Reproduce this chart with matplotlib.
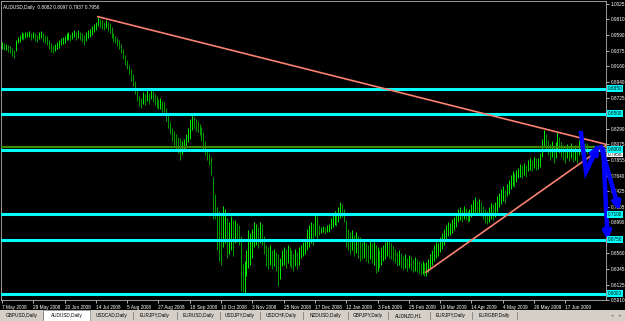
import matplotlib
matplotlib.use("Agg")
import matplotlib.pyplot as plt
from matplotlib.patches import Rectangle

title_text = "AUDUSD,Daily  0.8082 0.8097 0.7937 0.7956"

highs = [
    0.950, 0.948, 0.947, 0.945, 0.944, 0.941, 0.938, 0.952, 0.957, 0.960,
    0.963, 0.962, 0.964, 0.963, 0.965, 0.962, 0.964, 0.962, 0.960, 0.963,
    0.965, 0.962, 0.960, 0.958, 0.952, 0.948, 0.946, 0.947, 0.950, 0.953,
    0.955, 0.957, 0.958, 0.962, 0.963, 0.961, 0.964, 0.967, 0.963, 0.966,
    0.964, 0.962, 0.960, 0.963, 0.966, 0.968, 0.972, 0.975, 0.978, 0.985,
    0.982, 0.980, 0.978, 0.980, 0.977, 0.976, 0.970, 0.962, 0.958, 0.955,
    0.952, 0.947, 0.940, 0.932, 0.925, 0.918, 0.912, 0.905, 0.895, 0.885,
    0.874, 0.872, 0.880, 0.878, 0.884, 0.879, 0.886, 0.881, 0.878, 0.874,
    0.870, 0.872, 0.868, 0.866, 0.858, 0.848, 0.838, 0.830, 0.826, 0.822,
    0.818, 0.816, 0.812, 0.815, 0.822, 0.830, 0.842, 0.849, 0.846, 0.843,
    0.840, 0.836, 0.832, 0.825, 0.812, 0.800, 0.795, 0.790, 0.762, 0.738,
    0.720, 0.715, 0.712, 0.722, 0.718, 0.705, 0.700, 0.708, 0.702, 0.702,
    0.698, 0.695, 0.680, 0.641, 0.645, 0.660, 0.688, 0.684, 0.690, 0.700,
    0.697, 0.693, 0.699, 0.696, 0.680, 0.668, 0.664, 0.667, 0.660, 0.662,
    0.658, 0.655, 0.650, 0.660, 0.665, 0.662, 0.668, 0.664, 0.660, 0.655,
    0.662, 0.658, 0.665, 0.668, 0.672, 0.675, 0.690, 0.695, 0.700, 0.698,
    0.712, 0.708, 0.695, 0.693, 0.694, 0.692, 0.695, 0.696, 0.705, 0.710,
    0.715, 0.712, 0.720, 0.727, 0.725, 0.718, 0.702, 0.690, 0.685, 0.688,
    0.682, 0.686, 0.680, 0.678, 0.672, 0.675, 0.670, 0.668, 0.673, 0.670,
    0.672, 0.668, 0.665, 0.660, 0.665, 0.668, 0.672, 0.675, 0.673, 0.670,
    0.666, 0.662, 0.658, 0.660, 0.656, 0.652, 0.655, 0.650, 0.654, 0.652,
    0.648, 0.651, 0.648, 0.645, 0.643, 0.645, 0.642, 0.644, 0.648, 0.655,
    0.660, 0.668, 0.672, 0.670, 0.678, 0.684, 0.690, 0.695, 0.700, 0.698,
    0.703, 0.706, 0.710, 0.718, 0.720, 0.716, 0.721, 0.719, 0.715, 0.718,
    0.725, 0.730, 0.734, 0.728, 0.732, 0.727, 0.722, 0.718, 0.715, 0.720,
    0.726, 0.724, 0.727, 0.735, 0.740, 0.745, 0.749, 0.744, 0.752, 0.758,
    0.765, 0.770, 0.768, 0.772, 0.775, 0.780, 0.778, 0.782, 0.779, 0.785,
    0.788, 0.786, 0.790, 0.788, 0.789, 0.795, 0.815, 0.828, 0.822, 0.814,
    0.808, 0.812, 0.805, 0.810, 0.824, 0.818, 0.810, 0.806, 0.803, 0.808,
    0.805, 0.809, 0.802, 0.806, 0.800, 0.814, 0.810, 0.812, 0.809, 0.8097,
]
lows = [
    0.940, 0.938, 0.939, 0.936, 0.934, 0.930, 0.928, 0.937, 0.948, 0.950,
    0.954, 0.953, 0.955, 0.956, 0.957, 0.953, 0.955, 0.951, 0.950, 0.954,
    0.955, 0.950, 0.948, 0.945, 0.940, 0.936, 0.935, 0.937, 0.940, 0.942,
    0.945, 0.947, 0.948, 0.952, 0.953, 0.951, 0.954, 0.957, 0.952, 0.955,
    0.953, 0.950, 0.946, 0.951, 0.955, 0.957, 0.960, 0.964, 0.967, 0.972,
    0.970, 0.968, 0.967, 0.969, 0.965, 0.962, 0.955, 0.950, 0.948, 0.944,
    0.940, 0.935, 0.926, 0.918, 0.912, 0.905, 0.895, 0.888, 0.878, 0.868,
    0.860, 0.858, 0.864, 0.862, 0.868, 0.864, 0.870, 0.866, 0.862, 0.858,
    0.856, 0.857, 0.853, 0.852, 0.840, 0.830, 0.822, 0.812, 0.806, 0.800,
    0.795, 0.786, 0.794, 0.798, 0.802, 0.810, 0.815, 0.828, 0.830, 0.826,
    0.825, 0.820, 0.812, 0.800, 0.793, 0.785, 0.778, 0.765, 0.703, 0.703,
    0.660, 0.645, 0.640, 0.665, 0.670, 0.650, 0.655, 0.660, 0.652, 0.670,
    0.672, 0.668, 0.604, 0.602, 0.600, 0.625, 0.635, 0.640, 0.650, 0.665,
    0.668, 0.663, 0.670, 0.668, 0.655, 0.638, 0.634, 0.640, 0.634, 0.638,
    0.632, 0.610, 0.620, 0.638, 0.640, 0.636, 0.642, 0.638, 0.635, 0.632,
    0.638, 0.634, 0.640, 0.650, 0.652, 0.655, 0.660, 0.665, 0.670, 0.668,
    0.680, 0.675, 0.682, 0.684, 0.685, 0.683, 0.686, 0.685, 0.690, 0.692,
    0.695, 0.694, 0.700, 0.705, 0.706, 0.700, 0.665, 0.660, 0.655, 0.660,
    0.652, 0.656, 0.650, 0.645, 0.648, 0.650, 0.645, 0.643, 0.648, 0.642,
    0.640, 0.628, 0.632, 0.635, 0.640, 0.645, 0.648, 0.652, 0.650, 0.648,
    0.645, 0.642, 0.638, 0.640, 0.636, 0.633, 0.636, 0.632, 0.635, 0.633,
    0.630, 0.632, 0.630, 0.628, 0.626, 0.627, 0.624, 0.625, 0.630, 0.636,
    0.640, 0.645, 0.650, 0.652, 0.658, 0.662, 0.668, 0.674, 0.680, 0.682,
    0.684, 0.688, 0.692, 0.700, 0.702, 0.700, 0.704, 0.702, 0.699, 0.701,
    0.706, 0.710, 0.714, 0.710, 0.712, 0.708, 0.704, 0.698, 0.696, 0.700,
    0.704, 0.702, 0.706, 0.714, 0.720, 0.725, 0.728, 0.726, 0.735, 0.738,
    0.745, 0.750, 0.748, 0.755, 0.760, 0.762, 0.760, 0.765, 0.762, 0.770,
    0.772, 0.771, 0.774, 0.772, 0.773, 0.776, 0.790, 0.805, 0.800, 0.792,
    0.785, 0.790, 0.782, 0.788, 0.800, 0.796, 0.790, 0.785, 0.782, 0.788,
    0.784, 0.789, 0.783, 0.786, 0.782, 0.792, 0.794, 0.796, 0.795, 0.7937,
]

date_labels = ["7 May 2008", "29 May 2008", "20 Jun 2008", "14 Jul 2008",
               "5 Aug 2008", "27 Aug 2008", "18 Sep 2008", "10 Oct 2008",
               "3 Nov 2008", "25 Nov 2008", "17 Dec 2008", "12 Jan 2009",
               "3 Feb 2009", "25 Feb 2009", "19 Mar 2009", "14 Apr 2009",
               "4 May 2009", "26 May 2009", "17 Jun 2009"]
date_label_bars = [0, 16, 32, 48, 64, 80, 96, 112, 128, 144, 160, 176,
                   192, 208, 224, 240, 256, 272, 288]

price_ticks = [1.0025, 0.9810, 0.9590, 0.9375, 0.9160, 0.8940, 0.8725,
               0.8505, 0.8290, 0.8075, 0.7855, 0.7640, 0.7425, 0.7205,
               0.6990, 0.6775, 0.6560, 0.6345, 0.6125, 0.5910]

level_prices = [0.8850, 0.8500, 0.8000, 0.7100, 0.6750, 0.6000]
green_level = 0.8035
last_price = 0.7956

trend_down_bars = [49, 309.3]
trend_down_prices = [0.9849, 0.8071]
trend_up_bars = [216.8, 309.3]
trend_up_prices = [0.6297, 0.8071]

proj_path_bars = [296.0, 298.6, 305.0]
proj_path_prices = [0.8230, 0.7697, 0.8070]
proj_arrow2_bars = [306.3, 315.6]
proj_arrow2_prices = [0.8040, 0.7150]
proj_arrow3_bars = [307.4, 309.6]
proj_arrow3_prices = [0.8010, 0.6740]

tab_labels = ["GBPUSD,Daily", "AUDUSD,Daily", "USDCAD,Daily", "EURJPY,Daily",
              "EURUSD,Daily", "USDJPY,Daily", "USDCHF,Daily", "NZDUSD,Daily",
              "GBPJPY,Daily", "AUDNZD,H1", "EURJPY,Daily", "EURGBP,Daily"]
active_tab = 1

# ---------------------------------------------------------------- layout
W, H = 625, 321
FONT = "Liberation Sans"
FS = 3.4
fig = plt.figure(figsize=(W / 100, H / 100), dpi=100, facecolor="black")
ax = fig.add_axes([1 / W, 21 / H, 605 / W, 299 / H], facecolor="black")

n = len(highs)
xs = list(range(n))
cols = []
for i in range(n):
    mid = (highs[i] + lows[i]) / 2
    pmid = (highs[i - 1] + lows[i - 1]) / 2 if i > 0 else mid
    cols.append("#00FF00" if mid >= pmid else "#00A800")
ax.vlines(xs, lows, highs, colors=cols, linewidth=0.65, zorder=3)

for p in level_prices:
    ax.axhline(p, color="#00FFFF", linewidth=2.2, zorder=4)
ax.axhline(green_level, color="#3C8C00", linewidth=1.6, zorder=4)

ax.plot(trend_down_bars, trend_down_prices, color="#FA8072", linewidth=1.2, zorder=5)
ax.plot(trend_up_bars, trend_up_prices, color="#FA8072", linewidth=1.2, zorder=5)

blue = "#0000FF"
ax.plot(proj_path_bars[:-1] + [proj_path_bars[-1] - 0.9],
        proj_path_prices[:-1] + [proj_path_prices[-1] - 0.005],
        color=blue, linewidth=3.2, solid_joinstyle="miter", zorder=6, clip_on=False)
aprops = dict(arrowstyle="-|>", color=blue, lw=3.2, mutation_scale=11,
              shrinkA=0, shrinkB=0)
ax.annotate("", xy=(proj_path_bars[-1], proj_path_prices[-1]),
            xytext=(proj_path_bars[-2], proj_path_prices[-2]),
            arrowprops=aprops, annotation_clip=False, zorder=6)
ax.annotate("", xy=(proj_arrow2_bars[1], proj_arrow2_prices[1]),
            xytext=(proj_arrow2_bars[0], proj_arrow2_prices[0]),
            arrowprops=aprops, annotation_clip=False, zorder=6)
ax.annotate("", xy=(proj_arrow3_bars[1], proj_arrow3_prices[1]),
            xytext=(proj_arrow3_bars[0], proj_arrow3_prices[0]),
            arrowprops=aprops, annotation_clip=False, zorder=6)

ax.set_xlim(-0.5, 308.8)
ax.set_ylim(0.5922, 1.00666)

for s in ax.spines.values():
    s.set_color("#B0B0B0")
    s.set_linewidth(0.6)

# tick labels hidden behind level boxes in the reference are left blank
ytick_texts = []
for p in price_ticks:
    hidden = any(abs(p - q) < 0.004 for q in level_prices)
    ytick_texts.append("" if hidden else f"{p:.4f}")

ax.yaxis.tick_right()
ax.set_yticks(price_ticks)
ax.set_yticklabels(ytick_texts, fontsize=FS, color="white", fontfamily=FONT)
ax.tick_params(axis="y", colors="white", length=2, width=0.5, pad=1.2,
               labelcolor="white")
ax.set_xticks(date_label_bars)
ax.set_xticklabels(date_labels, fontsize=FS, color="white", fontfamily=FONT,
                   ha="left")
ax.tick_params(axis="x", colors="white", length=2.5, width=0.5, pad=1.0,
               labelcolor="white")

# right-axis level labels
trans = ax.get_yaxis_transform()
for p in level_prices:
    ax.text(1.003, p, f"{p:.4f}", transform=trans, fontsize=FS, fontfamily=FONT,
            color="black", va="center", ha="left", zorder=10, clip_on=False,
            bbox=dict(boxstyle="square,pad=0.15", fc="#00FFFF", ec="none"))
ax.text(1.003, last_price - 0.002, f"{last_price:.4f}", transform=trans,
        fontsize=FS, fontfamily=FONT, color="black", va="center", ha="left",
        zorder=9, clip_on=False,
        bbox=dict(boxstyle="square,pad=0.15", fc="white", ec="none"))

ax.text(0.004, 0.985, title_text, transform=ax.transAxes, fontsize=FS,
        fontfamily=FONT, color="white", va="top", ha="left", zorder=10)

# ---------------------------------------------------------------- tab bar
tab_ax = fig.add_axes([0, 0, 1, 11 / H])
tab_ax.set_xlim(0, W)
tab_ax.set_ylim(0, 11)
tab_ax.axis("off")
tab_ax.add_patch(Rectangle((0, 0), W, 11, fc="#D4D0C8", ec="none"))
tab_edges = [1, 43, 90, 133, 177, 220, 260, 303, 348, 388, 430, 472, 517]
for k, lbl in enumerate(tab_labels):
    x0, x1 = tab_edges[k], tab_edges[k + 1]
    if k == active_tab:
        tab_ax.add_patch(Rectangle((x0, 0), x1 - x0, 11, fc="white", ec="#808080",
                                   lw=0.5))
    else:
        tab_ax.plot([x1, x1], [2, 9], color="#808080", lw=0.6)
    tab_ax.text((x0 + x1) / 2, 5.2, lbl, fontsize=FS, fontfamily=FONT,
                color="black", ha="center", va="center")
tab_ax.text(612, 5.2, "\u25c2", fontsize=FS, color="#808080", ha="center", va="center")
tab_ax.text(620, 5.2, "\u25b8", fontsize=FS, color="#808080", ha="center", va="center")

fig.savefig("out.png", dpi=100, facecolor="black")
